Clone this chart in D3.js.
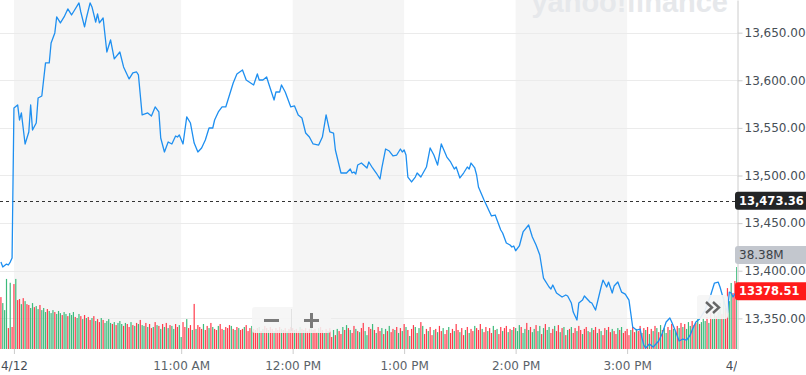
<!DOCTYPE html>
<html>
<head>
<meta charset="utf-8">
<script src="https://cdn.jsdelivr.net/npm/d3@7"></script>
<style>
  body { margin: 0; background: #fff; }
  svg text { font-family: "DejaVu Sans", sans-serif; }
</style>
</head>
<body>
<div id="chart"></div>
<script>
// Price line: minutes after 9:30 on 4/12 (negative = previous session) and index level
var priceMinutes = [-7, -6, -4, -3, -2, -1, 0, 2, 3, 4, 6, 8, 9, 10, 12, 13, 15, 17, 19, 20,
  22, 23, 25, 27, 29, 31, 32, 35, 36, 38, 39, 41, 42, 44, 45, 46, 48, 50, 52, 54,
  57, 59, 62, 64, 66, 67, 69, 72, 74, 76, 78, 79, 81, 83, 85, 87, 88, 89, 91, 93,
  95, 97, 99, 101, 103, 105, 107, 108, 110, 112, 114, 116, 118, 120, 123, 125, 129, 131, 132, 134,
  136, 137, 140, 141, 143, 144, 146, 149, 151, 153, 155, 157, 159, 161, 164, 166, 168, 170, 172, 173,
  176, 178, 179, 181, 182, 183, 184, 185, 187, 190, 191, 193, 195, 197, 198, 200, 202, 204, 206, 208,
  209, 210, 211, 212, 214, 216, 217, 219, 222, 224, 226, 228, 230, 233, 235, 237, 238, 240, 242, 244,
  245, 246, 248, 249, 250, 253, 255, 257, 259, 262, 263, 265, 267, 268, 269, 270, 272, 274, 277, 279,
  281, 283, 285, 288, 289, 290, 292, 295, 297, 298, 300, 301, 303, 304, 306, 307, 310, 311, 313, 316,
  317, 319, 320, 322, 323, 325, 327, 329, 331, 333, 335, 337, 338, 339, 340, 342, 344, 346, 347, 349,
  351, 353, 354, 356, 357, 358, 360, 362, 364, 365, 367, 369, 372, 375, 377, 379, 380, 382, 384, 385,
  386, 387, 389];
var priceValues = [13409.1, 13403.9, 13407.0, 13406.0, 13409.1, 13413.4, 13570.9, 13574.1, 13558.3, 13565.7,
  13533.1, 13545.7, 13574.1, 13547.8, 13555.1, 13581.4, 13583.5, 13618.2, 13618.2, 13639.2,
  13649.7, 13666.5, 13660.2, 13666.5, 13674.9, 13668.6, 13671.7, 13681.2, 13671.7, 13656.0,
  13665.4, 13681.2, 13677.0, 13661.2, 13669.6, 13660.2, 13665.4, 13629.7, 13642.3, 13622.4,
  13629.7, 13614.0, 13601.4, 13607.7, 13608.7, 13605.6, 13563.6, 13565.7, 13562.5, 13572.0,
  13566.7, 13539.4, 13524.7, 13535.2, 13533.1, 13541.5, 13540.4, 13542.5, 13533.1, 13561.5,
  13555.1, 13534.1, 13524.7, 13528.9, 13537.3, 13549.9, 13549.9, 13558.3, 13566.7, 13572.0,
  13572.0, 13584.6, 13597.2, 13606.6, 13610.8, 13600.3, 13595.1, 13606.6, 13600.3, 13600.3,
  13603.5, 13597.2, 13579.3, 13587.7, 13587.7, 13595.1, 13587.7, 13572.0, 13573.0, 13563.6,
  13560.4, 13544.6, 13540.4, 13533.1, 13532.0, 13540.4, 13563.6, 13545.7, 13544.6, 13526.8,
  13502.6, 13502.6, 13502.6, 13506.8, 13502.6, 13503.7, 13501.6, 13511.0, 13513.1, 13507.9,
  13514.2, 13507.9, 13502.6, 13496.3, 13507.9, 13527.8, 13525.7, 13520.5, 13521.5, 13527.8,
  13524.7, 13526.8, 13521.5, 13498.4, 13493.2, 13498.4, 13502.6, 13498.4, 13508.9, 13528.9,
  13521.5, 13511.0, 13533.1, 13519.4, 13514.2, 13506.8, 13508.9, 13497.4, 13502.6, 13508.9,
  13506.8, 13513.1, 13507.9, 13500.5, 13487.9, 13474.3, 13465.9, 13457.5, 13458.5, 13442.8,
  13439.6, 13429.1, 13427.0, 13424.9, 13426.0, 13421.0, 13426.0, 13440.7, 13448.0, 13435.4,
  13427.0, 13416.5, 13392.3, 13382.9, 13380.8, 13385.0, 13376.6, 13372.4, 13374.5, 13373.5,
  13366.1, 13356.6, 13348.2, 13366.1, 13369.2, 13373.5, 13367.1, 13366.1, 13358.7, 13382.9,
  13390.2, 13382.9, 13388.1, 13376.6, 13383.9, 13388.1, 13377.6, 13375.5, 13369.2, 13340.9,
  13337.7, 13338.8, 13329.3, 13322.0, 13318.8, 13323.0, 13319.8, 13324.1, 13326.2, 13334.6,
  13346.1, 13350.3, 13346.1, 13336.7, 13331.4, 13326.2, 13328.3, 13327.2, 13332.5, 13337.7,
  13346.1, 13349.3, 13358.7, 13374.5, 13387.1, 13388.1, 13382.9, 13369.2, 13355.6, 13377.6,
  13376.6, 13372.4, 13378.51];

// Volume per minute (millions), first bar at minute -7
var volumeStart = -7;
var volumeMillions = [24.3, 21.5, 18.2, 32.8, 9.8, 31.0, 10.3,
  30.4, 32.8, 22.9, 23.4, 21.0, 23.8, 22.4, 21.0, 20.6, 19.2,
  21.5, 19.6, 20.1, 18.7, 20.6, 18.2, 19.2, 17.3, 18.7, 17.8,
  16.8, 18.2, 17.3, 16.4, 17.8, 16.8, 15.9, 17.3, 16.4, 15.4,
  16.8, 15.9, 17.3, 15.0, 14.5, 16.4, 15.4, 14.0, 15.9, 14.5,
  15.0, 13.6, 14.5, 15.4, 13.1, 14.0, 12.6, 14.5, 13.6, 12.2,
  13.1, 14.0, 12.2, 11.7, 12.6, 11.2, 12.2, 13.1, 11.7, 10.8,
  12.2, 11.7, 10.3, 12.6, 11.2, 10.8, 12.2, 11.7, 13.6, 11.2,
  10.8, 12.2, 10.3, 11.7, 9.8, 10.3, 12.6, 11.2, 10.8, 9.4,
  11.7, 10.3, 12.2, 9.8, 11.2, 10.8, 9.4, 11.7, 10.3, 11.2,
  5.6, 12.6, 10.3, 14.0, 9.8, 11.2, 8.9, 21.1, 9.4, 11.2,
  10.3, 9.4, 11.7, 8.9, 10.8, 9.8, 12.2, 10.3, 9.4, 8.9,
  10.8, 11.7, 9.4, 8.9, 10.3, 9.8, 11.2, 10.8, 9.4, 8.9,
  10.3, 9.8, 8.9, 9.4, 10.3, 11.2, 8.4, 9.8, 10.8, 9.4,
  8.9, 9.8, 10.3, 8.4, 9.4, 10.8, 9.8, 8.9, 10.3, 9.4,
  8.4, 9.8, 8.9, 10.3, 9.4, 8.9, 9.8, 8.4, 9.4, 10.3,
  9.8, 8.9, 9.4, 8.4, 10.3, 9.4, 8.9, 9.8, 8.4, 9.4,
  10.8, 8.9, 9.4, 7.9, 9.8, 10.3, 8.9, 7.5, 9.4, 8.4,
  9.8, 5.6, 8.9, 6.5, 9.4, 8.4, 7.0, 10.3, 8.9, 11.2,
  9.8, 8.9, 7.5, 10.8, 9.4, 8.4, 7.9, 9.8, 12.2, 8.4,
  6.5, 10.3, 9.4, 11.7, 8.9, 7.5, 10.3, 8.4, 9.8, 7.0,
  9.4, 8.4, 10.8, 7.9, 9.4, 8.9, 10.3, 7.5, 9.8, 8.4,
  11.7, 10.3, 8.9, 6.1, 9.4, 11.2, 10.3, 7.5, 9.8, 12.6,
  10.8, 7.0, 9.4, 8.4, 10.3, 6.5, 8.9, 9.4, 7.9, 10.8,
  8.4, 9.8, 7.0, 8.9, 10.3, 7.5, 9.4, 8.4, 11.7, 8.9,
  7.9, 9.8, 6.5, 8.9, 10.3, 7.5, 9.4, 8.4, 10.8, 9.8,
  8.9, 11.7, 9.4, 7.9, 10.3, 8.4, 9.8, 7.5, 10.8, 8.9,
  9.4, 7.0, 10.3, 8.4, 9.8, 10.8, 7.9, 9.4, 8.9, 10.3,
  9.8, 8.4, 11.2, 10.3, 7.5, 9.4, 12.2, 8.9, 10.3, 7.9,
  9.4, 11.2, 8.4, 10.8, 7.0, 9.8, 11.7, 8.9, 10.3, 7.5,
  9.4, 10.8, 8.4, 11.2, 7.9, 9.8, 10.3, 6.5, 8.9, 9.4,
  10.3, 7.5, 9.8, 8.4, 10.8, 8.9, 7.0, 9.4, 10.3, 8.4,
  7.9, 9.8, 8.9, 10.3, 7.5, 9.4, 8.4, 6.5, 9.8, 8.9,
  10.3, 7.9, 9.4, 8.4, 7.0, 9.8, 8.9, 10.3, 7.5, 8.4,
  9.4, 6.5, 8.9, 10.3, 7.9, 9.4, 8.4, 10.8, 7.5, 9.8,
  8.9, 10.3, 7.0, 9.4, 8.4, 10.8, 9.8, 7.9, 11.2, 8.9,
  9.8, 7.5, 10.3, 8.9, 11.7, 9.4, 8.4, 10.8, 9.8, 12.2,
  10.3, 11.7, 9.4, 12.6, 10.8, 13.1, 11.2, 12.2, 14.0, 11.7,
  12.6, 14.5, 13.1, 15.0, 12.2, 16.8, 14.0, 18.7, 15.4, 17.3,
  21.5, 16.4, 24.3, 19.2, 28.5, 22.4, 30.9, 26.2, 31.8, 38.38];
// g = up minute, r = down minute
var volumeDirections = ("rgggrgr" +
  "rgrrgrgrrg" + "grggrgggrg" + "ggrgggrggr" + "gggrggrgrg" + "rrgrgrrgrg" +
  "gggrgrgggr" + "grrgrgrgrg" + "grgrrgrgrg" + "rgrgrggrrg" + "grrgrrgrgr" +
  "rrgrrgrgrr" + "grrgrrrgrg" + "rgrrgrrrgr" + "rrgrgrrgrr" + "grrrgrrgrr" +
  "rgrrgrgrrr" + "grrrgrrgrg" + "rrgrgrrgrg" + "rgrrgrgrrg" + "grrgrgrrgr" +
  "grgrrgrgrg" + "rgrgrrgrgr" + "grrgrrgrgr" + "rgrrgrrgrr" + "grrgrgrrgr" +
  "rrgrrgrrgr" + "grrgrrgrgr" + "gggrggrgrg" + "grggrgrggr" + "rgrrgrgrgr" +
  "grrgrrgrrg" + "rgrrgrgrrg" + "rrgrrgrgrr" + "rrgrrgrrgr" + "grgrgrgrgr" +
  "ggrgrggrgr" + "grgggrgrgr" + "gggrgrggrg" + "grgrrggrrg").split("");

// Axis ticks
var priceTicks = [13350, 13400, 13450, 13500, 13550, 13600, 13650];
var timeTicks = [0, 90, 150, 210, 270, 330, 390];
var timeTickLabels = ["4/12", "11:00 AM", "12:00 PM", "1:00 PM", "2:00 PM", "3:00 PM", "4/13"];
var dayTicks = ["4/12", "4/13"];
// Alternate hour shading, minutes after 9:30
var bandStarts = [0, 150, 270];
var bandEnds = [90, 210, 330];

var previousClose = 13473.36;
var lastPrice = 13378.51;
var lastVolume = 38.38;

// SVG area
var svgWidth = 806;
var svgHeight = 375;
var plotWidth = 737;
var plotHeight = 349;

var svg = d3.select("#chart")
  .append("svg")
  .attr("width", svgWidth)
  .attr("height", svgHeight);

svg.append("defs").append("clipPath")
  .attr("id", "plotClip")
  .append("rect")
  .attr("width", plotWidth)
  .attr("height", svgHeight);

// Scales
var xScale = d3.scaleLinear().domain([-7.5, 390]).range([0, 738.6]);
var yScale = d3.scaleLinear().domain([13317.8, 13684.3]).range([plotHeight, 0]);
var volScale = d3.scaleLinear().domain([0, lastVolume]).range([plotHeight, 267]);

var plot = svg.append("g").attr("clip-path", "url(#plotClip)");

// Shaded hours
plot.selectAll(".band")
  .data(bandStarts)
  .enter()
  .append("rect")
  .attr("class", "band")
  .attr("x", d => xScale(d))
  .attr("width", (d, i) => xScale(bandEnds[i]) - xScale(d))
  .attr("y", 0)
  .attr("height", plotHeight)
  .attr("fill", "#f5f5f5");

// Watermark (sits half above the top edge, as in the source)
plot.append("text")
  .attr("x", 728)
  .attr("y", 12)
  .attr("text-anchor", "end")
  .attr("font-size", 29)
  .attr("font-weight", "bold")
  .attr("fill", "#e6e8eb")
  .style("font-family", "'Liberation Sans', Arial, sans-serif")
  .text("yahoo!finance");

// Gridlines
plot.selectAll(".grid")
  .data(priceTicks)
  .enter()
  .append("line")
  .attr("class", "grid")
  .attr("x1", 0)
  .attr("x2", plotWidth)
  .attr("y1", d => Math.round(yScale(d)) + 0.5)
  .attr("y2", d => Math.round(yScale(d)) + 0.5)
  .attr("stroke", "#ebebeb");

// Volume bars
plot.selectAll(".vol")
  .data(volumeMillions)
  .enter()
  .append("rect")
  .attr("class", "vol")
  .attr("x", (d, i) => xScale(volumeStart + i) - 0.6)
  .attr("width", 1.2)
  .attr("y", d => volScale(d))
  .attr("height", d => plotHeight - volScale(d))
  .attr("fill", (d, i) => volumeDirections[i] == "g" ? "#3cbb7b" : "#ff3b4b");

// Previous close
plot.append("line")
  .attr("x1", 0)
  .attr("x2", plotWidth)
  .attr("y1", Math.round(yScale(previousClose)) + 0.5)
  .attr("y2", Math.round(yScale(previousClose)) + 0.5)
  .attr("stroke", "#333")
  .attr("stroke-dasharray", "3,3");

// Price line
var priceLine = d3.line()
  .x((d, i) => xScale(priceMinutes[i]))
  .y(d => yScale(d));

plot.append("path")
  .datum(priceValues)
  .attr("d", priceLine)
  .attr("fill", "none")
  .attr("stroke", "#1e8ff0")
  .attr("stroke-width", 1.3)
  .attr("stroke-linejoin", "round");

// x axis
var xAxis = d3.axisBottom(xScale)
  .tickValues(timeTicks)
  .tickFormat((d, i) => timeTickLabels[i])
  .tickSize(5)
  .tickSizeOuter(0)
  .tickPadding(7);

var xAxisGroup = plot.append("g")
  .attr("transform", `translate(0, ${plotHeight})`)
  .call(xAxis);
xAxisGroup.select(".domain").remove();
xAxisGroup.selectAll(".tick line").attr("stroke", "#ccc");
xAxisGroup.selectAll(".tick text")
  .attr("font-size", 12)
  .attr("fill", "#5b636a")
  .style("font-family", null);
xAxisGroup.selectAll(".tick text")
  .filter((d, i) => dayTicks.indexOf(timeTickLabels[i]) >= 0)
  .attr("fill", "#464e56");

// y axis
var yAxis = d3.axisRight(yScale)
  .tickValues(priceTicks)
  .tickFormat(d3.format(",.2f"))
  .tickSize(5)
  .tickSizeOuter(0)
  .tickPadding(2);

var yAxisGroup = svg.append("g")
  .attr("transform", `translate(${plotWidth + 0.5}, 0)`)
  .call(yAxis);
yAxisGroup.select(".domain").attr("stroke", "#ccc");
yAxisGroup.selectAll(".tick line").attr("stroke", "#ccc");
yAxisGroup.selectAll(".tick text")
  .attr("font-size", 12)
  .attr("fill", "#464e56");

// Zoom buttons
var zoomBox = svg.append("g");
zoomBox.append("rect")
  .attr("x", 252).attr("y", 307)
  .attr("width", 79).attr("height", 26)
  .attr("rx", 3)
  .attr("fill", "rgba(245,245,245,0.88)");
zoomBox.append("line")
  .attr("x1", 291.5).attr("x2", 291.5)
  .attr("y1", 309).attr("y2", 331)
  .attr("stroke", "#e2e2e2");
zoomBox.append("rect").attr("x", 264).attr("y", 319).attr("width", 15).attr("height", 3).attr("fill", "#7a7a7a");
zoomBox.append("rect").attr("x", 304).attr("y", 319).attr("width", 15).attr("height", 3).attr("fill", "#7a7a7a");
zoomBox.append("rect").attr("x", 310).attr("y", 313).attr("width", 3).attr("height", 15).attr("fill", "#7a7a7a");

// Scroll right button
var moreBox = svg.append("g");
moreBox.append("rect")
  .attr("x", 697).attr("y", 295)
  .attr("width", 31).attr("height", 24)
  .attr("rx", 3)
  .attr("fill", "rgba(245,245,245,0.92)");
moreBox.selectAll("polyline")
  .data([706, 713])
  .enter()
  .append("polyline")
  .attr("points", d => `${d},302 ${d + 6},307.5 ${d},313`)
  .attr("fill", "none")
  .attr("stroke", "#666")
  .attr("stroke-width", 2.4);

// Value labels on the right
function valueLabel(yCenter, fill, textFill, weight, size, txt) {
  var g = svg.append("g");
  g.append("rect")
    .attr("x", 735)
    .attr("y", yCenter - 9)
    .attr("width", 80)
    .attr("height", 18)
    .attr("rx", 3)
    .attr("fill", fill);
  g.append("text")
    .attr("x", 739)
    .attr("y", yCenter)
    .attr("dy", "0.36em")
    .attr("font-size", size)
    .attr("font-weight", weight)
    .attr("fill", textFill)
    .text(txt);
}

valueLabel(yScale(previousClose), "#232526", "#fff", "bold", 11.5, d3.format(",.2f")(previousClose));
valueLabel(volScale(lastVolume) - 12, "#c3c7ce", "#3c4148", "normal", 12, lastVolume.toFixed(2) + "M");
valueLabel(yScale(lastPrice), "#ff1a1a", "#fff", "bold", 11.5, lastPrice.toFixed(2));
</script>
</body>
</html>
